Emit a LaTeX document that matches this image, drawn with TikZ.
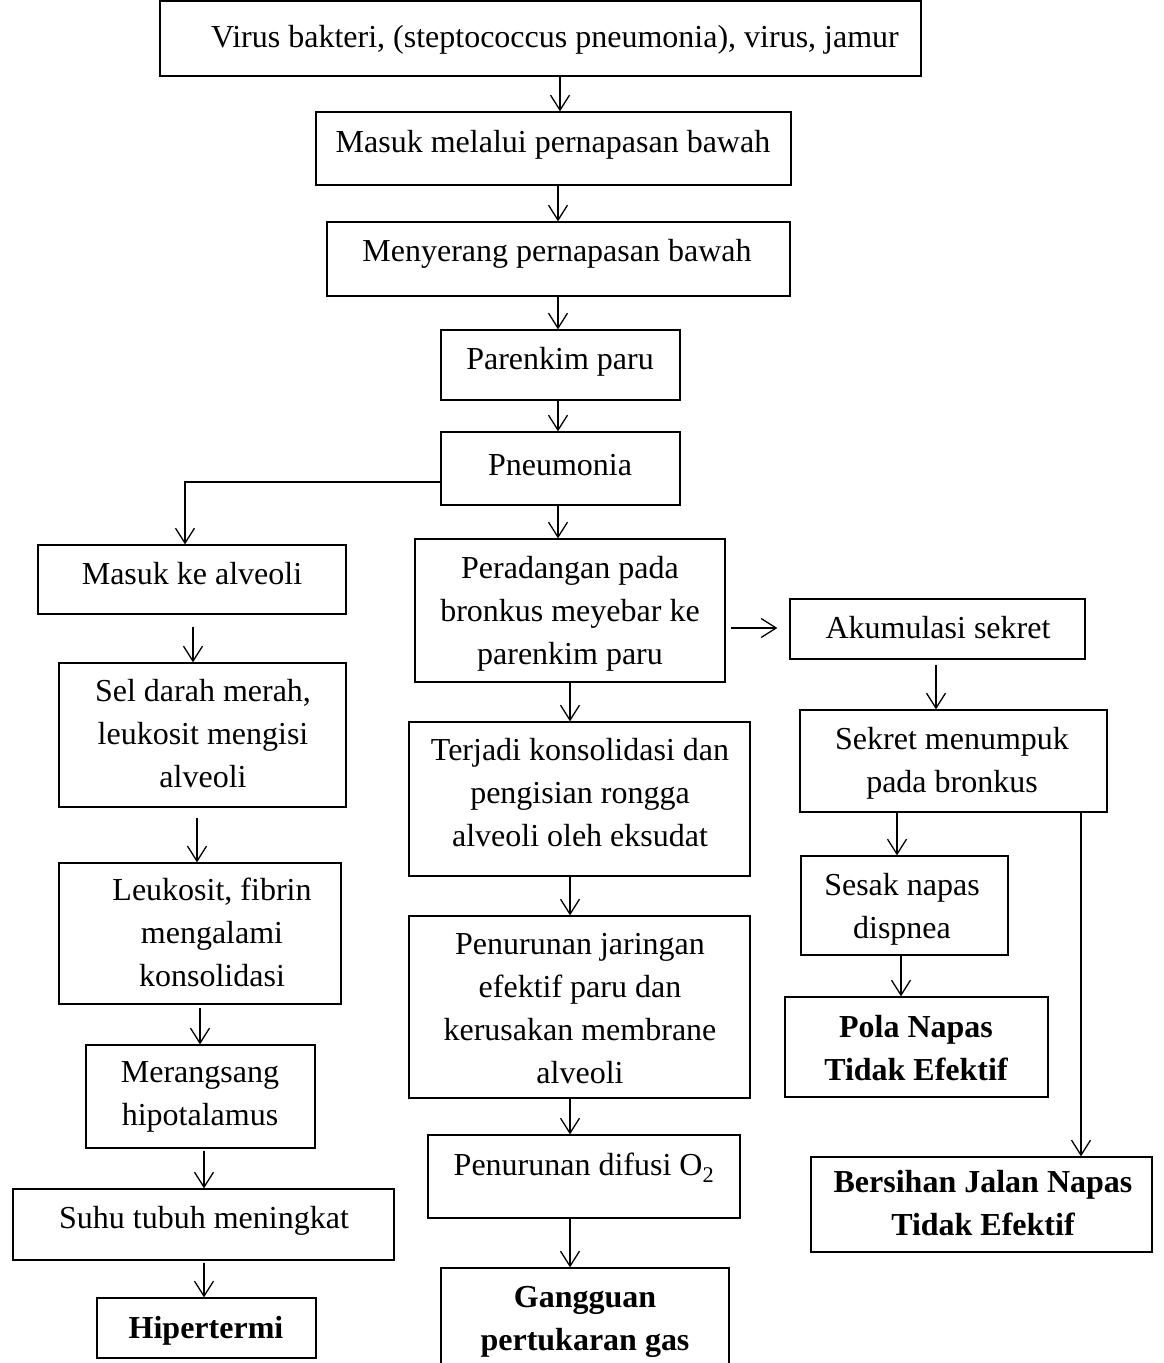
\documentclass[tikz,border=0pt]{standalone}
\usepackage{fontspec}
\setmainfont{Liberation Serif}
\usetikzlibrary{arrows.meta,fit}
\tikzset{
  boxst/.style={draw, line width=1.3pt, inner sep=0pt},
  txt/.style={anchor=north, inner sep=0pt, align=center, font=\fontsize{32}{43}\selectfont},
  btxt/.style={txt, font=\fontsize{32}{43}\selectfont\bfseries},
  arr/.style={-{Straight Barb[length=15pt,width=19pt]}, line width=1.3pt},
}
\newcommand\bx[5]{\node[boxst, fit={(#2,#3) (#4,#5)}] (#1) {};}
\begin{document}
\begin{tikzpicture}[x=1pt,y=-1pt]
\useasboundingbox (0,0) rectangle (1163,1363);
% boxes
\bx{b1}{160}{1}{921}{76}
\bx{b2}{316}{112}{791}{185}
\bx{b3}{327}{222}{790}{296}
\bx{b4}{441}{330}{680}{400}
\bx{b5}{441}{432}{680}{505}
\bx{b6}{38}{545}{346}{614}
\bx{b7}{415}{539}{725}{682}
\bx{b8}{790}{599}{1085}{659}
\bx{b9}{59}{663}{346}{807}
\bx{b10}{409}{722}{750}{876}
\bx{b11}{800}{710}{1107}{812}
\bx{b12}{59}{863}{341}{1004}
\bx{b13}{409}{916}{750}{1098}
\bx{b14}{801}{856}{1008}{955}
\bx{b15}{86}{1045}{315}{1148}
\bx{b16}{785}{997}{1048}{1097}
\bx{b17}{428}{1135}{740}{1218}
\bx{b18}{811}{1157}{1152}{1252}
\bx{b19}{13}{1189}{394}{1260}
\bx{b20}{97}{1298}{316}{1358}
\bx{b21}{441}{1268}{729}{1380}
% texts
\node[txt] (t1) at (555,25) {Virus bakteri, (steptococcus pneumonia), virus, jamur};
\node[txt] (t2) at (553,130) {Masuk melalui pernapasan bawah};
\node[txt] (t3) at (557,239) {Menyerang pernapasan bawah};
\node[txt] (t4) at (560,347) {Parenkim paru};
\node[txt] (t5) at (560,454) {Pneumonia};
\node[txt] (t6) at (192,562) {Masuk ke alveoli};
\node[txt] (t7) at (570,556) {Peradangan pada\\bronkus meyebar ke\\parenkim paru};
\node[txt] (t8) at (938,616) {Akumulasi sekret};
\node[txt] (t9) at (203,679) {Sel darah merah,\\leukosit mengisi\\alveoli};
\node[txt] (t10) at (580,738) {Terjadi konsolidasi dan\\pengisian rongga\\alveoli oleh eksudat};
\node[txt] (t11) at (952,727) {Sekret menumpuk\\pada bronkus};
\node[txt] (t12) at (212,878) {Leukosit, fibrin\\mengalami\\konsolidasi};
\node[txt] (t13) at (580,933) {Penurunan jaringan\\efektif paru dan\\kerusakan membrane\\alveoli};
\node[txt] (t14) at (902,873) {Sesak napas\\dispnea};
\node[txt] (t15) at (200,1061) {Merangsang\\hipotalamus};
\node[btxt] (t16) at (916,1015) {Pola Napas\\Tidak Efektif};
\node[txt] (t17) at (584,1153) {Penurunan difusi O\textsubscript{2}};
\node[btxt] (t18) at (983,1170) {Bersihan Jalan Napas\\Tidak Efektif};
\node[txt] (t19) at (204,1206) {Suhu tubuh meningkat};
\node[btxt] (t20) at (206,1316) {Hipertermi};
\node[btxt] (t21) at (585,1286) {Gangguan\\pertukaran gas};
% connectors
\draw[arr] (560,0 |- b1.south) -- (560,0 |- b2.north);
\draw[arr] (558,0 |- b2.south) -- (558,0 |- b3.north);
\draw[arr] (558,0 |- b3.south) -- (558,0 |- b4.north);
\draw[arr] (558,0 |- b4.south) -- (558,0 |- b5.north);
\draw[arr] (558,0 |- b5.south) -- (558,0 |- b7.north);
\draw[arr] (b5.west |- 0,482) -- (185,482) -- (185,0 |- b6.north);
\draw[arr, shorten <=12pt] (193,0 |- b6.south) -- (193,0 |- b9.north);
\draw[arr, shorten <=10pt] (197,0 |- b9.south) -- (197,0 |- b12.north);
\draw[arr, shorten <=3pt] (200,0 |- b12.south) -- (200,0 |- b15.north);
\draw[arr, shorten <=2pt] (204,0 |- b15.south) -- (204,0 |- b19.north);
\draw[arr, shorten <=2pt] (204,0 |- b19.south) -- (204,0 |- b20.north);
\draw[arr] (570,0 |- b7.south) -- (570,0 |- b10.north);
\draw[arr] (570,0 |- b10.south) -- (570,0 |- b13.north);
\draw[arr] (570,0 |- b13.south) -- (570,0 |- b17.north);
\draw[arr] (570,0 |- b17.south) -- (570,0 |- b21.north);
\draw[arr, shorten <=5pt, shorten >=12pt] (b7.east |- 0,628) -- (b8.west |- 0,628);
\draw[arr, shorten <=5pt] (936,0 |- b8.south) -- (936,0 |- b11.north);
\draw[arr] (897,0 |- b11.south) -- (897,0 |- b14.north);
\draw[arr] (901,0 |- b14.south) -- (901,0 |- b16.north);
\draw[arr] (1081,0 |- b11.south) -- (1081,0 |- b18.north);
\end{tikzpicture}
\end{document}
